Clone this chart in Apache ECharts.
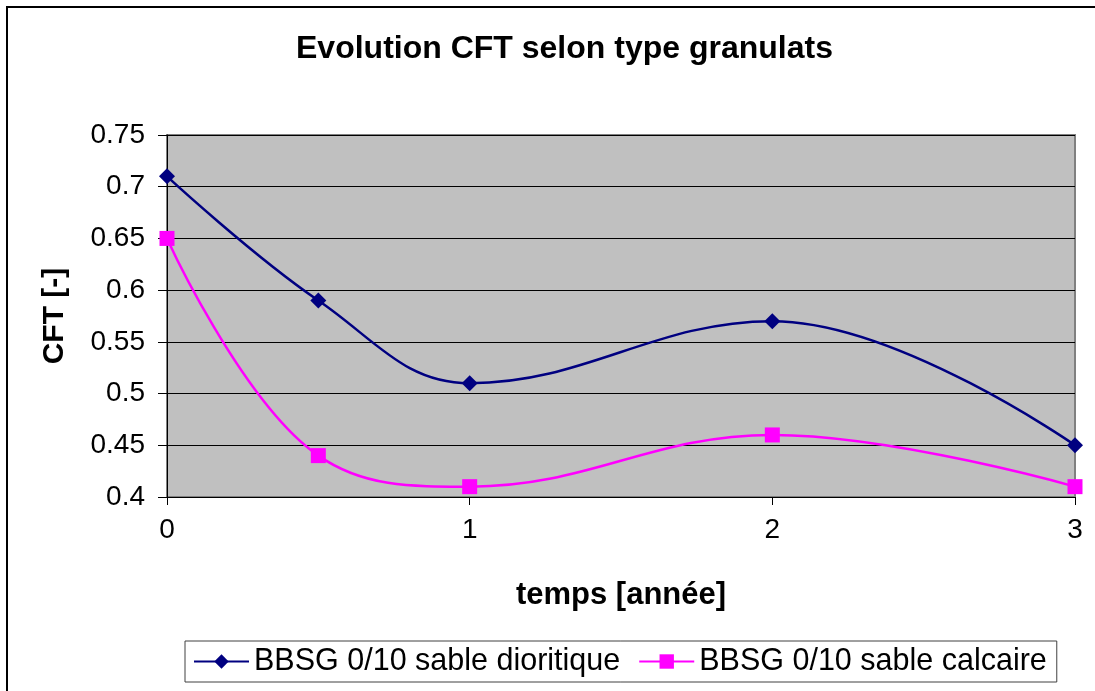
<!DOCTYPE html>
<html>
<head>
<meta charset="utf-8">
<script src="https://cdn.jsdelivr.net/npm/echarts@6/dist/echarts.min.js"></script>
<style>
  html, body { margin: 0; padding: 0; background: #fff; }
  #chart { width: 1095px; height: 691px; }
</style>
</head>
<body>
<div id="chart"></div>
<script>
const years = [0, 0.5, 1, 2, 3]
const dioritique = [0.71, 0.59, 0.51, 0.57, 0.45]
const calcaire = [0.65, 0.44, 0.41, 0.46, 0.41]
const seriesNames = ['BBSG 0/10 sable dioritique', 'BBSG 0/10 sable calcaire']

const chart = echarts.init(document.getElementById('chart'))
const font = 'Liberation Sans, Arial, sans-serif'

const option = {
  animation: false,
  title: {
    text: 'Evolution CFT selon type granulats',
    left: 291,
    top: 28,
    textStyle: { fontFamily: font, fontSize: 32, fontWeight: 'bold', color: '#000' }
  },
  grid: { left: 167, right: 20, top: 135, bottom: 194 },
  xAxis: {
    type: 'value',
    min: 0, max: 3, interval: 1,
    name: 'temps [année]',
    nameLocation: 'middle',
    nameGap: 83,
    nameTextStyle: { fontFamily: font, fontSize: 31, fontWeight: 'bold', color: '#000' },
    axisLine: { show: true, lineStyle: { color: '#000', width: 1 } },
    axisTick: { show: true, inside: false, length: 8, lineStyle: { color: '#000' } },
    axisLabel: { fontFamily: font, fontSize: 28, color: '#000', margin: 19 },
    splitLine: { show: false }
  },
  yAxis: {
    type: 'value',
    min: 0.4, max: 0.75, interval: 0.05,
    name: 'CFT [-]',
    nameLocation: 'middle',
    nameGap: 97,
    nameTextStyle: { fontFamily: font, fontSize: 30, fontWeight: 'bold', color: '#000' },
    axisLine: { show: true, lineStyle: { color: '#000', width: 1 } },
    axisTick: { show: true, length: 9, lineStyle: { color: '#000' } },
    axisLabel: {
      fontFamily: font, fontSize: 28, color: '#000', margin: 22,
      formatter: v => String(parseFloat(v.toFixed(2)))
    },
    splitLine: { show: true, lineStyle: { color: '#000', width: 1 } }
  },
  legend: {
    top: 641,
    left: 185,
    itemWidth: 55,
    itemHeight: 18,
    itemGap: 18,
    padding: [5, 10, 5, 8],
    borderColor: '#404040',
    borderWidth: 1,
    textStyle: { fontFamily: font, fontSize: 30.5, color: '#000' },
    data: seriesNames
  },
  series: [
    {
      name: seriesNames[0],
      type: 'line',
      smooth: 0.4,
      data: years.map((x, i) => [x, dioritique[i]]),
      symbol: 'diamond',
      symbolSize: 16,
      lineStyle: { color: '#000080', width: 2.5 },
      itemStyle: { color: '#000080' },
      z: 3
    },
    {
      name: seriesNames[1],
      type: 'line',
      smooth: 0.4,
      data: years.map((x, i) => [x, calcaire[i]]),
      symbol: 'rect',
      symbolSize: 15,
      lineStyle: { color: '#ff00ff', width: 2.5 },
      itemStyle: { color: '#ff00ff' },
      z: 2
    }
  ],
  graphic: [
    {
      type: 'rect',
      shape: { x: 167, y: 135, width: 908, height: 362 },
      style: { fill: '#c0c0c0', stroke: '#808080', lineWidth: 2 },
      z: -10,
      silent: true
    },
    {
      type: 'polyline',
      shape: { points: [[7, 700], [7, 7], [1100, 7]] },
      style: { fill: null, stroke: '#000', lineWidth: 2 },
      silent: true
    }
  ]
}
chart.setOption(option)
</script>
</body>
</html>
